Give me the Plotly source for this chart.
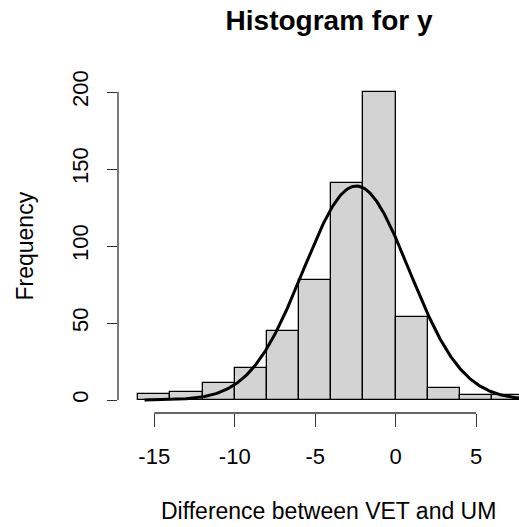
import numpy as np
import plotly.graph_objects as go

# Histogram bins (width 2) and their counts
bin_left = [-16, -14, -12, -10, -8, -6, -4, -2, 0, 2, 4, 6]
counts = [4, 5, 11, 21, 45, 78, 141, 200, 54, 8, 3, 3]
bin_width = 2

# Normal fit overlaid on the histogram, drawn over the data range
fit_mean = -2.45
fit_sd = 3.29
fit_from = -15.6
fit_to = 8.0

x_ticks = [-15, -10, -5, 0, 5]
x_tick_text = ["-15", "-10", "-5", "0", "5"]
y_ticks = [0, 50, 100, 150, 200]

FONT = "Liberation Sans"

n_total = sum(counts)
mids = [b + bin_width / 2 for b in bin_left]

xs = np.linspace(fit_from, fit_to, 400)
dens = np.exp(-0.5 * ((xs - fit_mean) / fit_sd) ** 2) / (fit_sd * np.sqrt(2 * np.pi))
ys = dens * n_total * bin_width

fig = go.Figure()
fig.add_trace(go.Bar(
    x=mids, y=counts, width=bin_width,
    marker=dict(color="#D3D3D3", line=dict(color="black", width=1.3)),
    hoverinfo="skip",
))
fig.add_trace(go.Scatter(
    x=xs, y=ys, mode="lines",
    line=dict(color="black", width=3),
    hoverinfo="skip",
))

# R-style detached axis lines spanning first to last tick
fig.add_shape(type="line", xref="x", yref="paper",
              x0=x_ticks[0], x1=x_ticks[-1], y0=0, y1=0,
              line=dict(color="#333333", width=1.3))
fig.add_shape(type="line", xref="paper", yref="y",
              x0=0, x1=0, y0=y_ticks[0], y1=y_ticks[-1],
              line=dict(color="#333333", width=1.3))

fig.add_annotation(text="Difference between VET and UM", xref="paper", yref="paper",
                   x=0.526, y=0, yanchor="middle", xanchor="center", yshift=-98,
                   showarrow=False, font=dict(family=FONT, size=23, color="black"))
fig.add_annotation(text="Frequency", xref="paper", yref="paper",
                   x=0, y=0.5, xanchor="center", yanchor="middle", xshift=-94,
                   textangle=-90, showarrow=False,
                   font=dict(family=FONT, size=23, color="black"))

fig.update_layout(
    width=519, height=527,
    margin=dict(l=118, r=0, t=80, b=114),
    plot_bgcolor="white", paper_bgcolor="white",
    showlegend=False,
    bargap=0,
    title=dict(text="<b>Histogram for y</b>", xref="container", yref="container",
               x=0.634, y=0.962, xanchor="center", yanchor="middle",
               font=dict(family=FONT, size=28, color="black")),
    xaxis=dict(range=[-17.25, 7.66], tickvals=x_ticks, ticktext=x_tick_text,
               ticks="outside", ticklen=13, tickwidth=1.3, tickcolor="#333333",
               showline=False, showgrid=False, zeroline=False,
               ticklabelstandoff=11,
               tickfont=dict(family=FONT, size=22, color="black")),
    yaxis=dict(range=[-8.44, 207.8], tickvals=y_ticks, ticks="outside",
               ticklen=10, tickwidth=1.3, tickcolor="#333333", tickangle=-90,
               showline=False, showgrid=False, zeroline=False,
               ticklabelstandoff=10,
               tickfont=dict(family=FONT, size=22, color="black")),
)

fig.write_html("out.html")
